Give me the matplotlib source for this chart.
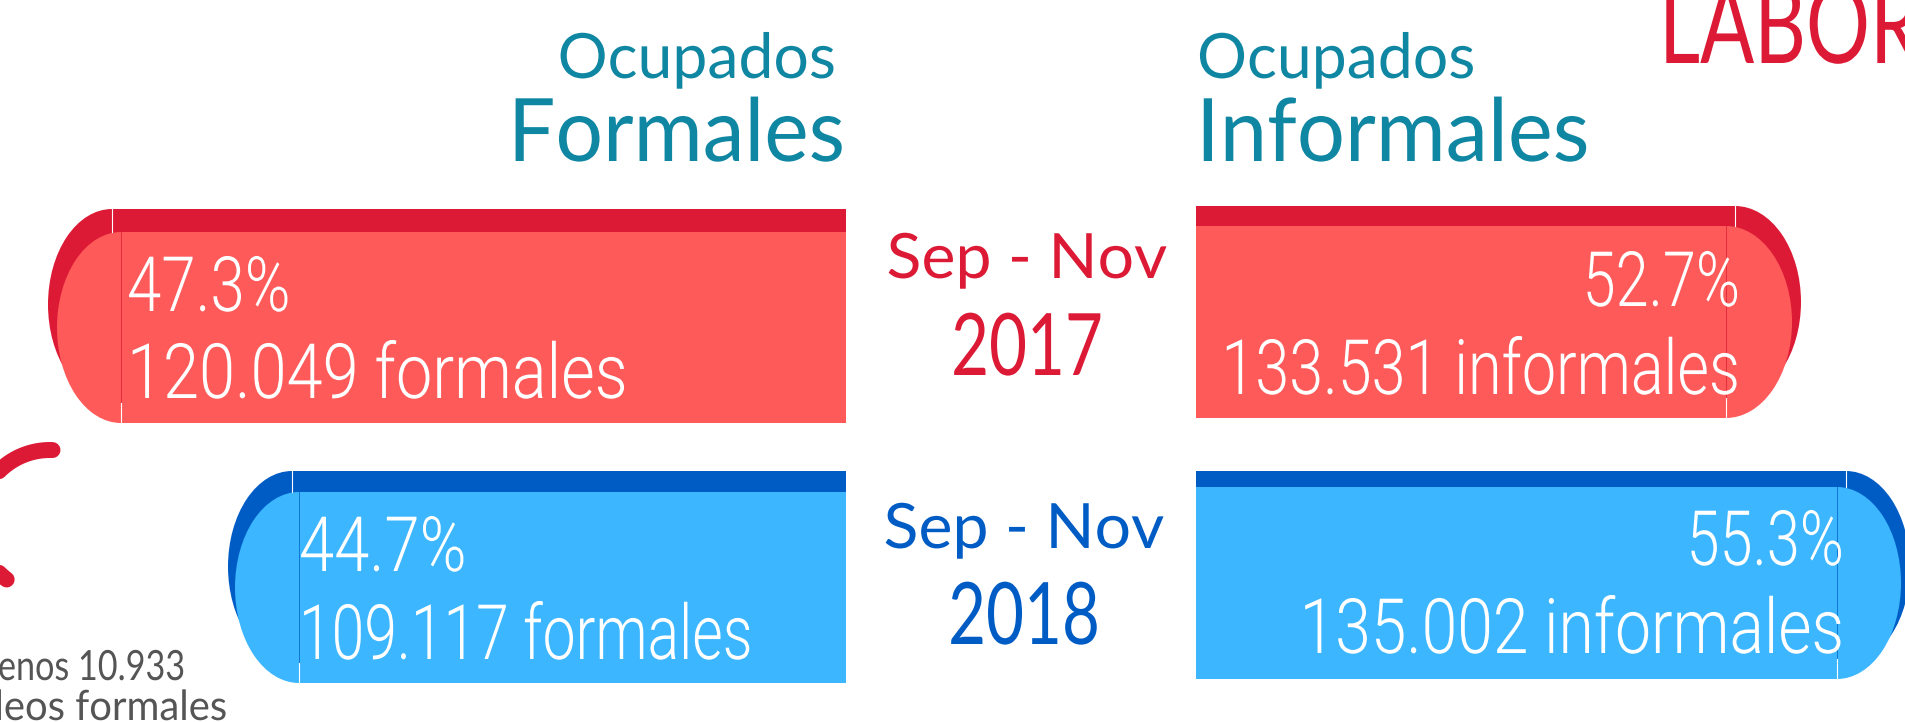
import numpy as np
import matplotlib
matplotlib.use("Agg")
import matplotlib.pyplot as plt
from matplotlib.patches import Rectangle, Ellipse
from matplotlib.patheffects import AbstractPathEffect
from matplotlib.transforms import Affine2D

# ---------------- data ----------------
periods = ["Sep - Nov", "Sep - Nov"]
years = ["2017", "2018"]
formal_pct = [47.3, 44.7]
informal_pct = [52.7, 55.3]
formal_count = ["120.049", "109.117"]
informal_count = ["133.531", "135.002"]
heading_top = "Ocupados"
heading_formal = "Formales"
heading_informal = "Informales"
note_lines = ["menos 10.933", "empleos formales"]
corner_title = "LABORAL"

# ---------------- styles ----------------
DARK = ["#DC1A35", "#005CC5"]
LIGHT = ["#FF5A5A", "#3BB6FF"]
TEAL = "#0F86A2"
GRAY = "#555555"

# layout (pixel geometry of the infographic)
formal_geo = [  # dark_edge, light_edge, dark_top, light_top, bottom, rx
    (112, 121, 209, 232, 423, 64),
    (292, 299, 471, 492, 683, 64),
]
formal_right = 846
informal_geo = [
    (1735, 1726, 206, 226, 418, 66),
    (1846, 1837, 471, 487, 679, 64),
]
informal_left = 1196
formal_text = [(127, 311, 398), (299, 571, 659)]
informal_text = [(1740, 306, 394), (1844, 565, 653)]
formal_sx = [(0.81, 0.85), (0.83, 0.77)]
informal_sx = [(0.78, 0.80), (0.78, 0.84)]
period_pos = [(1027, 278, 375), (1024, 548, 644)]
BAR_FONT = "Roboto"

W, H = 1906, 722
fig = plt.figure(figsize=(W / 100, H / 100), dpi=100)
ax = fig.add_axes([0, 0, 1, 1])
ax.set_xlim(0, W)
ax.set_ylim(H, 0)
ax.axis("off")


class Squeeze(AbstractPathEffect):
    """Horizontally condense a text about its anchor point."""
    def __init__(self, text, sx):
        super().__init__()
        self.text = text
        self.sx = sx

    def draw_path(self, renderer, gc, tpath, affine, rgbFace=None):
        x0, _ = self.text.get_transform().transform(self.text.get_position())
        aff = affine + Affine2D().translate(-x0, 0).scale(self.sx, 1).translate(x0, 0)
        renderer.draw_path(gc, tpath, aff, rgbFace)


def label(x, y, s, size, color, ha="left", sx=1.0, family="Lato", weight="normal", va="baseline"):
    t = ax.text(x, y, s, fontsize=size, color=color, ha=ha, va=va,
                family=[family, "DejaVu Sans"], fontweight=weight, zorder=10)
    t.set_path_effects([Squeeze(t, sx)])
    return t


def capsule(side, geo, far_edge, dark, light):
    d_edge, l_edge, d_top, l_top, bottom, rx = geo
    ry = (bottom - l_top) / 2
    d_bot = d_top + 2 * ry
    if side == "left":
        x_d, w_d = d_edge, far_edge - d_edge
        x_l, w_l = l_edge, far_edge - l_edge
    else:
        x_d, w_d = far_edge, d_edge - far_edge
        x_l, w_l = far_edge, l_edge - far_edge
    ax.add_patch(Rectangle((x_d, d_top), w_d, d_bot - d_top, color=dark, lw=0, zorder=1))
    ax.add_patch(Ellipse((d_edge, d_top + ry), 2 * rx, 2 * ry, color=dark, lw=0, zorder=1))
    ax.add_patch(Rectangle((x_l, l_top), w_l, bottom - l_top, color=light, lw=0, zorder=2))
    ax.add_patch(Ellipse((l_edge, l_top + ry), 2 * rx, 2 * ry, color=light, lw=0, zorder=2))
    # thin seams
    ax.plot([d_edge, d_edge], [d_top, l_top], color="white", lw=0.8, zorder=3)
    ax.plot([l_edge, l_edge], [l_top, bottom - 20], color=dark, lw=0.7, alpha=0.7, zorder=3)
    ax.plot([l_edge, l_edge], [bottom - 20, bottom], color="white", lw=0.8, zorder=3)


for i in range(2):
    capsule("left", formal_geo[i], formal_right, DARK[i], LIGHT[i])
    capsule("right", informal_geo[i], informal_left, DARK[i], LIGHT[i])

    fx, fy1, fy2 = formal_text[i]
    label(fx, fy1, f"{formal_pct[i]:.1f}%", 55, "white", sx=formal_sx[i][0],
          family=BAR_FONT, weight=300)
    label(fx, fy2, f"{formal_count[i]} formales", 55, "white", sx=formal_sx[i][1],
          family=BAR_FONT, weight=300)
    ix, iy1, iy2 = informal_text[i]
    label(ix, iy1, f"{informal_pct[i]:.1f}%", 55, "white", ha="right", sx=informal_sx[i][0],
          family=BAR_FONT, weight=300)
    label(ix, iy2, f"{informal_count[i]} informales", 55, "white", ha="right",
          sx=informal_sx[i][1], family=BAR_FONT, weight=300)

    px, py1, py2 = period_pos[i]
    label(px, py1, periods[i], 45, DARK[i], ha="center", sx=1.03)
    label(px, py2, years[i], 62, DARK[i], ha="center", sx=0.76)

# headings
label(836, 78, heading_top, 45, TEAL, ha="right")
label(845, 161, heading_formal, 63, TEAL, ha="right", sx=0.96)
label(1197, 78, heading_top, 45, TEAL, ha="left")
label(1196, 161, heading_informal, 63, TEAL, ha="left", sx=0.97)

# corner title (cropped at the edge, as in the source)
label(1659, 63, corner_title, 80, DARK[0], ha="left", sx=0.72)

# note at bottom-left (cropped at the edge, as in the source)
label(185, 680, note_lines[0], 30, GRAY, ha="right", sx=0.82)
label(227, 720, note_lines[1], 30, GRAY, ha="right", sx=0.96)

# decorative red arc
cx, cy, R = 50, 522, 72
t = np.deg2rad(np.linspace(127, 272, 120))
ax.plot(cx + R * np.cos(t), cy + R * np.sin(t), color=DARK[0], lw=11.5,
        solid_capstyle="round", zorder=4)

fig.savefig("out.png", dpi=100)
